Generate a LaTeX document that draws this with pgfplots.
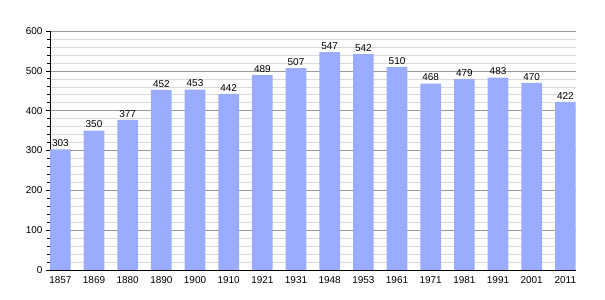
\documentclass[border=0pt]{standalone}
\usepackage{fontspec}
\setmainfont{Liberation Sans}
\usepackage{pgfplots}
\pgfplotsset{compat=1.18}
\definecolor{barblue}{RGB}{153,172,255}
\begin{document}
\begin{tikzpicture}
\useasboundingbox (-50bp,-30bp) rectangle (555bp,270bp);
\begin{axis}[
  at={(0,0)}, anchor=south west,
  scale only axis,
  width=525.7bp, height=239bp,
  xmin=-0.307, xmax=15.307,
  ymin=0, ymax=600,
  ytick={0,100,...,600},
  minor y tick num=4,
  xtick=data,
  xticklabels={1857,1869,1880,1890,1900,1910,1921,1931,1948,1953,1961,1971,1981,1991,2001,2011},
  axis x line*=bottom, axis y line*=left,
  x axis line style={-, black, line width=0.9pt},
  y axis line style={-, black, line width=0.9pt},
  x tick style={draw=none},
  y tick style={black, line width=0.6pt},
  tick align=outside,
  major tick length=4bp, minor tick length=2.5bp,
  ymajorgrids, yminorgrids,
  major grid style={color=black!40, line width=0.6pt},
  minor grid style={color=black!14, line width=0.5pt},
  tick label style={font=\fontsize{10}{12}\selectfont},
  /pgf/number format/assume math mode=true,
  xticklabel style={yshift=1bp},
  ybar, bar width=0.615, bar shift=0pt,
  nodes near coords,
  every node near coord/.append style={font=\fontsize{10}{12}\selectfont, black, yshift=-1bp},
]
\addplot[fill=barblue, draw=none] coordinates {
(0,303) (1,350) (2,377) (3,452) (4,453) (5,442) (6,489) (7,507)
(8,547) (9,542) (10,510) (11,468) (12,479) (13,483) (14,470) (15,422)};
\end{axis}
\end{tikzpicture}
\end{document}
